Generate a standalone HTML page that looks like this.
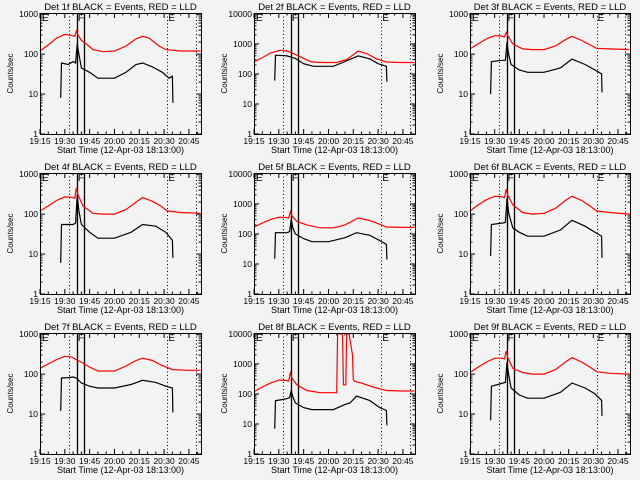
<!DOCTYPE html>
<html><head><meta charset="utf-8"><style>
html,body{margin:0;padding:0;background:#f3f3f3;}
svg{display:block;font-family:"Liberation Sans",sans-serif;}
</style></head><body>
<svg id="chart" width="640" height="480" viewBox="0 0 640 480">
<rect x="0" y="0" width="640" height="480" fill="#f3f3f3"/>
</svg>
<script>
const detNames = ["1f","2f","3f","4f","5f","6f","7f","8f","9f"];
const decades = [3,4,3,3,4,3,3,4,3];
const xTickLabels = ["19:15","19:30","19:45","20:00","20:15","20:30","20:45"];
const xTickMinutes = [0,15,30,45,60,75,90];
const markerMinutes = [17.5,22.3,26.5,77,94.5];
const redT = [
 [0,5,10,15,18,21,22,23,25,28,32,38,45,52,58,62,66,72,76,85,97],
 [0,5,10,16,20,26,30,35,42,50,56,63,68,74,80,88,97],
 [0,5,10,15,19,21,22,23,26,32,38,45,52,58,62,68,73,77,85,97],
 [0,5,10,15,19,21,22,23,26,32,38,45,52,58,62,68,73,77,85,97],
 [0,5,10,15,19,21,22,23,26,32,40,48,55,63,70,75,80,90,97],
 [0,5,10,15,19,21,22,23,26,32,38,45,52,58,62,68,73,77,85,97],
 [0,5,10,15,19,22,25,30,35,45,52,58,62,68,73,80,90,97],
 [0,5,10,15,19,21,22,23,26,32,40,50,50.5,53.5,54,55.5,56,57.5,59.5,60,61,65,72,80,90,97],
 [0,5,10,15,19,21,22,23,26,32,38,45,52,58,62,68,73,77,85,97]
];
const redV = [
 [120,170,250,310,300,280,380,300,220,180,130,115,120,160,240,280,250,160,130,120,120],
 [250,350,500,620,580,420,330,250,240,240,300,580,480,320,250,240,240],
 [135,180,240,290,285,270,350,290,180,135,130,130,160,230,280,220,170,140,135,130],
 [120,160,220,270,265,250,450,300,160,105,100,100,130,200,260,210,160,120,110,105],
 [170,230,300,360,355,340,550,400,260,200,160,160,200,340,280,220,170,165,165],
 [120,170,230,280,275,260,420,300,170,110,100,105,140,220,280,220,160,120,110,100],
 [140,180,230,280,270,230,200,150,120,120,160,220,250,220,170,130,125,125],
 [120,170,230,290,285,270,500,330,200,130,110,110,10000,10000,200,200,10000,10000,2000,300,260,230,170,130,125,125],
 [110,150,200,250,250,240,380,260,140,110,100,100,130,200,260,200,150,115,105,100]
];
const blackT = [
 [12.5,13,17,20,21.5,22.5,23.5,25,30,35,45,52,58,62,68,74,78,80,80.3],
 [12.5,13,20,25,30,36,48,55,63,70,75,80,80.3],
 [12.5,13,17,20,21.5,22.5,23.5,25,30,35,45,55,62,70,76,80,80.3],
 [12.5,13,17,20,21.5,22.5,23.5,25,30,35,45,55,62,70,76,80,80.3],
 [12.5,13,17,20,21.5,22.5,23.5,25,30,35,45,55,62,70,76,80,80.3],
 [12.5,13,17,20,21.5,22.5,23.5,26,30,35,45,55,62,70,76,80,80.3],
 [12.5,13,17,20,22,25,30,35,45,55,62,70,76,80,80.3],
 [12.5,13,17,20,21.5,22.5,23.5,25,30,35,48,55,58,62,70,76,80,80.3],
 [12.5,13,17,20,21.5,22.5,23.5,25,30,35,45,55,62,70,76,80,80.3]
];
const blackV = [
 [8,60,55,65,60,180,100,45,35,25,25,35,55,60,48,35,25,28,6],
 [60,420,400,330,220,180,180,260,400,320,220,180,55],
 [10,65,68,70,70,200,100,55,40,35,35,45,75,55,40,32,11],
 [6,55,55,55,60,300,120,55,35,25,25,35,55,50,35,22,8],
 [15,110,110,110,120,300,160,100,70,55,55,75,110,90,60,45,14],
 [9,55,58,60,62,250,110,45,35,28,28,40,70,50,35,28,8],
 [12,80,82,85,80,60,50,45,45,55,70,62,50,45,11],
 [7,60,65,70,75,130,80,50,35,30,30,45,50,85,60,35,28,9],
 [7,50,55,60,62,200,100,45,30,25,25,35,60,45,32,22,9]
];

const NS = "http://www.w3.org/2000/svg";
const svg = document.getElementById("chart");
const colLeft = [40,254,470], colRight = [201,415,630], rowTop = [13,173,333], plotH = 121;
const TMAX = 97.3;
function mk(tag, attrs, parent){const e=document.createElementNS(NS,tag);for(const k in attrs)e.setAttribute(k,attrs[k]);(parent||svg).appendChild(e);return e;}

for(let p=0;p<9;p++){
  const L=colLeft[p%3], R=colRight[p%3], T=rowTop[Math.floor(p/3)], B=T+plotH;
  const nd=decades[p], dec=plotH/(nd+(nd===3?0.03:0.03));
  const g=mk("g",{});
  
  
  const xs=t=>L+(t/TMAX)*(R-L);
  const ys=v=>B-Math.log10(v)*dec;
  // title
  const ti=mk("text",{x:(L+R)/2,y:T-3,"font-size":"9.5","text-anchor":"middle",fill:"#000"},g);
  ti.textContent="Det "+detNames[p]+" BLACK = Events, RED = LLD";
  
  
  // y label
  const yl=mk("text",{x:0,y:0,"font-size":"8","text-anchor":"middle",fill:"#000",transform:`translate(${L-27},${(T+B)/2}) rotate(-90)`},g);
  yl.textContent="Counts/sec";
  
  
  // x label
  const xl=mk("text",{x:(L+R)/2,y:B+19,"font-size":"9","text-anchor":"middle",fill:"#000"},g);
  xl.textContent="Start Time (12-Apr-03 18:13:00)";
  
  
  // y ticks
  for(let d=0;d<=nd;d++){
    const v=Math.pow(10,d), y=ys(v);
    mk("line",{x1:L,x2:L+5,y1:y,y2:y,stroke:"#000","stroke-width":1},g);
    mk("line",{x1:R,x2:R-5,y1:y,y2:y,stroke:"#000","stroke-width":1},g);
    const lb=mk("text",{x:L-2,y:y+3,"font-size":"8.5","text-anchor":"end",fill:"#000"},g);
    lb.textContent=String(v);
    
    
    if(d<nd) for(let m=2;m<=9;m++){const ym=ys(v*m);
      mk("line",{x1:L,x2:L+2.5,y1:ym,y2:ym,stroke:"#000","stroke-width":1},g);
      mk("line",{x1:R,x2:R-2.5,y1:ym,y2:ym,stroke:"#000","stroke-width":1},g);}
  }
  // x ticks
  xTickMinutes.forEach((t,i)=>{const x=xs(t);
    mk("line",{x1:x,x2:x,y1:B,y2:B-5,stroke:"#000"},g);
    mk("line",{x1:x,x2:x,y1:T,y2:T+5,stroke:"#000"},g);
    for(let m=5;m<15;m+=5){const xm=xs(t+m); if(xm<R){mk("line",{x1:xm,x2:xm,y1:B,y2:B-2.5,stroke:"#000"},g);mk("line",{x1:xm,x2:xm,y1:T,y2:T+2.5,stroke:"#000"},g);}}
    const lb=mk("text",{x:x,y:B+10,"font-size":"8.5","text-anchor":"middle",fill:"#000"},g);
    lb.textContent=xTickLabels[i];
    
    
  });
  // marker lines
  markerMinutes.forEach((t,i)=>{const x=Math.round(xs(t))+0.5;
    const solid=(i===1||i===2);
    const ln=mk("line",{x1:x,x2:x,y1:T,y2:B,stroke:"#000","stroke-width":solid?1.3:1,"stroke-dasharray":solid?"none":"1,2.5"},g);
    
    
  });
  const tags=[["E",L+2],["F",xs(markerMinutes[1])+1],["E",xs(markerMinutes[3])+1]];
  tags.forEach(tg=>{const tx=mk("text",{x:tg[1],y:T+8,"font-size":"10",fill:"#000"},g);tx.textContent=tg[0];
    
    });
  // series
  const path=(ts,vs)=>ts.map((t,i)=>(i?"L":"M")+xs(t).toFixed(1)+","+ys(vs[i]).toFixed(1)).join("");
  const rp=mk("path",{d:path(redT[p],redV[p]),fill:"none",stroke:"#ff0000","stroke-width":1.2},g);
  
  
  const bp=mk("path",{d:path(blackT[p],blackV[p]),fill:"none",stroke:"#000","stroke-width":1.2},g);
  
  
  // frame
  const fr=mk("rect",{x:L+0.5,y:T+0.5,width:R-L,height:B-T,fill:"none",stroke:"#000","stroke-width":1},g);
  
  
}
</script>
</body></html>
